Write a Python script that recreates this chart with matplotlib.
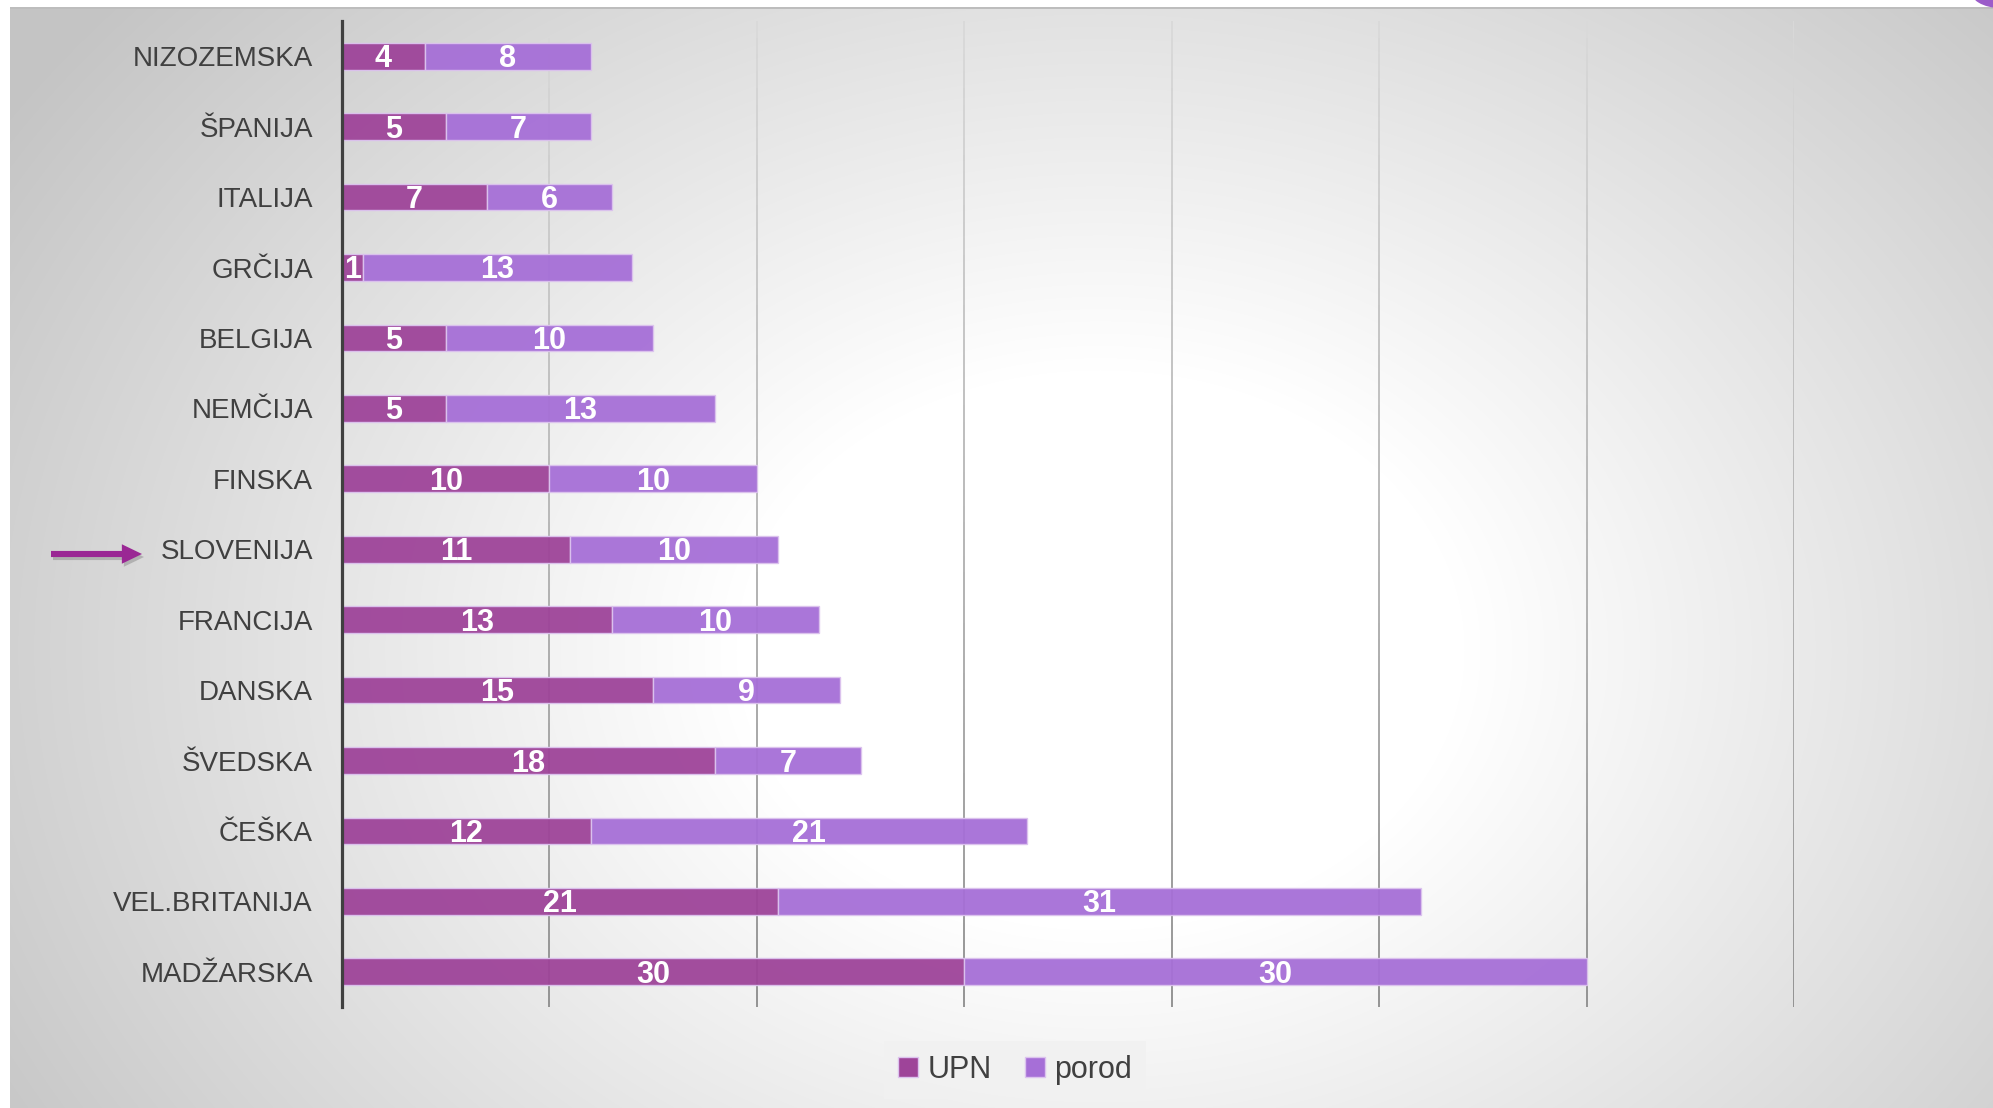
import numpy as np
import matplotlib
matplotlib.use("Agg")
import matplotlib.pyplot as plt
from matplotlib.collections import LineCollection
from matplotlib.patches import FancyArrowPatch, ArrowStyle, Patch, Ellipse, Rectangle
from matplotlib import font_manager

# ---- data -------------------------------------------------------------
countries = ["NIZOZEMSKA", "ŠPANIJA", "ITALIJA", "GRČIJA", "BELGIJA", "NEMČIJA",
             "FINSKA", "SLOVENIJA", "FRANCIJA", "DANSKA", "ŠVEDSKA", "ČEŠKA",
             "VEL.BRITANIJA", "MADŽARSKA"]
upn = [4, 5, 7, 1, 5, 5, 10, 11, 13, 15, 18, 12, 21, 30]
porod = [8, 7, 6, 13, 10, 13, 10, 10, 10, 9, 7, 21, 31, 30]
series_names = ["UPN", "porod"]
x_max = 70
x_step = 10
highlight = "SLOVENIJA"

# ---- styling ----------------------------------------------------------
names = {f.name for f in font_manager.fontManager.ttflist}
narrow = "Liberation Sans Narrow" in names
main_font = "Liberation Sans Narrow" if narrow else "Liberation Sans"
plt.rcParams["font.family"] = [main_font, "DejaVu Sans"]
cat_size = 23 if narrow else 20

c_upn = "#9e4499"
c_porod = "#a66fd7"
c_edge = "#dcc3ee"
c_text = "#404040"

W, H = 1993, 1108
fig = plt.figure(figsize=(W / 100, H / 100), dpi=100)
fig.patch.set_facecolor("white")

# soft radial backdrop
bg = fig.add_axes([10 / W, 0, 1 - 10 / W, 1 - 8 / H], zorder=0)
yy, xx = np.mgrid[8:H, 10:W].astype(float)
cx, cy = 1100.0, 650.0
d = np.sqrt(((xx - cx) / 1.3) ** 2 + (yy - cy) ** 2)
t = np.clip((d - 280.0) / 720.0, 0, 1)
v = 1 - 0.23 * t
bg.imshow(np.dstack([v, v, v]), aspect="auto", extent=[0, 1, 0, 1], origin="upper")
bg.set_axis_off()

# thin grey rule under the white strip at the top
fig.add_artist(Rectangle((10 / W, 1 - 9 / H), 1, 1.5 / H, transform=fig.transFigure,
                         facecolor="#bdbdbd", edgecolor="none", zorder=1))
# corner ornament, top right
fig.add_artist(Ellipse((2000 / W, 1 - (-10) / H), 60 / W, 36 / H, transform=fig.transFigure,
                       facecolor="#9b5cc9", edgecolor="none", zorder=1))

# ---- chart ------------------------------------------------------------
ax = fig.add_axes([342 / W, 1 - 1007 / H, (1794 - 342) / W, (1007 - 21) / H], zorder=2)
ax.set_facecolor("none")
n = len(countries)
y = np.arange(n)
ax.set_xlim(0, x_max)
ax.set_ylim(n - 0.5, -0.5)

# vertical gridlines, fading from light at the top to darker at the bottom
segs, cols = [], []
ys = np.linspace(-0.5, n - 0.5, 60)
for gx in range(x_step, x_max + 1, x_step):
    for k in range(len(ys) - 1):
        segs.append([(gx, ys[k]), (gx, ys[k + 1])])
        f = k / (len(ys) - 2)
        g = 0.85 - 0.30 * f
        cols.append((g, g, g))
ax.add_collection(LineCollection(segs, colors=cols, linewidths=1.3, zorder=1))

bh = 0.38
ax.barh(y, upn, height=bh, color=c_upn, edgecolor=c_edge, linewidth=1.0,
        alpha=0.95, zorder=2, label=series_names[0])
ax.barh(y, porod, left=upn, height=bh, color=c_porod, edgecolor=c_edge,
        linewidth=1.0, alpha=0.95, zorder=2, label=series_names[1])

val_size = 22
cap_off = -0.36 * val_size
for yi, a, b in zip(y, upn, porod):
    for xc, val in ((a / 2, a), (a + b / 2, b)):
        ax.annotate(str(val), (xc, yi), xytext=(0, cap_off), textcoords="offset points",
                    ha="center", va="baseline", color="white",
                    fontsize=val_size, fontweight="bold", zorder=3)

ax.set_yticks(y)
ax.set_yticklabels(countries, fontsize=cat_size, color=c_text)
ax.tick_params(axis="y", length=0, pad=21)
ax.set_xticks([])
for s in ["top", "right", "bottom"]:
    ax.spines[s].set_visible(False)
ax.spines["left"].set_color(c_text)
ax.spines["left"].set_linewidth(2.3)
ax.spines["left"].set_zorder(4)

# legend
handles = [Patch(facecolor=c_upn, edgecolor=c_edge, label=series_names[0]),
           Patch(facecolor=c_porod, edgecolor=c_edge, label=series_names[1])]
leg = fig.legend(handles=handles, loc="center", bbox_to_anchor=(1015 / W, 1 - 1070 / H),
                 ncol=2, frameon=True, fancybox=False, fontsize=22,
                 handlelength=0.65, handleheight=0.65, handletextpad=0.3,
                 columnspacing=1.1, borderpad=0.45)
leg.get_frame().set_facecolor("#f1f1f1")
leg.get_frame().set_edgecolor("none")
for txt in leg.get_texts():
    txt.set_color(c_text)

# arrow pointing at the highlighted country
hy = 1 - (554 + 0) / H
style = ArrowStyle.Simple(head_length=14.5, head_width=14, tail_width=4.4)
shadow = FancyArrowPatch((53 / W, hy - 3 / H), (144 / W, hy - 3 / H), transform=fig.transFigure,
                         arrowstyle=style, mutation_scale=1, shrinkA=0, shrinkB=0,
                         facecolor="#000000", edgecolor="none", alpha=0.18, zorder=5)
arrow = FancyArrowPatch((51 / W, hy), (142 / W, hy), transform=fig.transFigure,
                        arrowstyle=style, mutation_scale=1, shrinkA=0, shrinkB=0,
                        facecolor="#9a2794", edgecolor="none", zorder=6)
fig.add_artist(shadow)
fig.add_artist(arrow)

fig.savefig("out.png", dpi=100)
